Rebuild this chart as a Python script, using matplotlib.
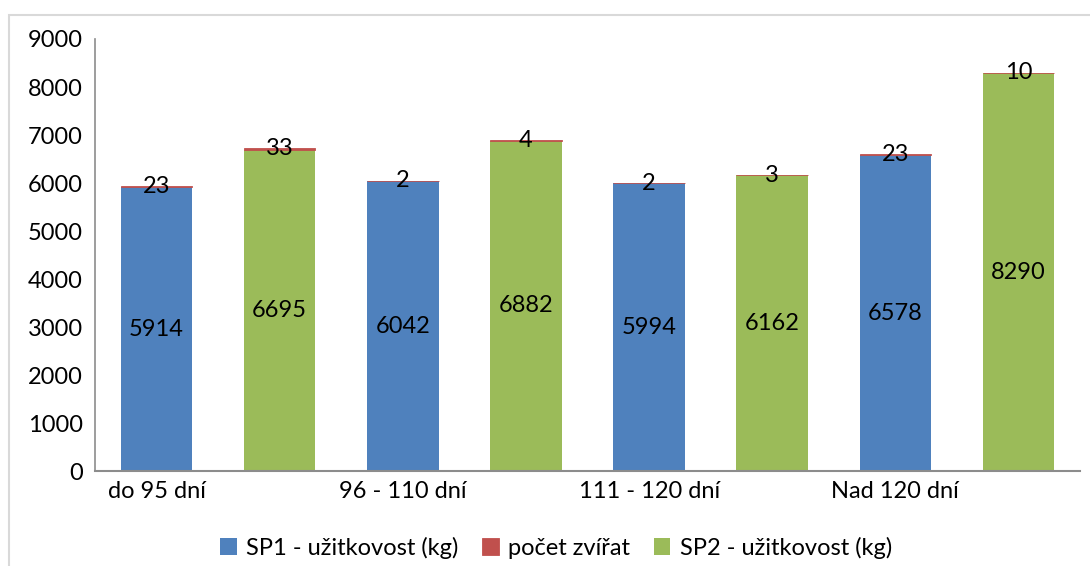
import matplotlib.pyplot as plt
from matplotlib.patches import Rectangle

plt.rcParams['font.family'] = ['Lato', 'DejaVu Sans']

# categories (every other one is unlabeled, like in the original sheet)
labels = ['do 95 dní', '', '96 - 110 dní', '', '111 - 120 dní', '', 'Nad 120 dní', '']
sp1 = [5914, 0, 6042, 0, 5994, 0, 6578, 0]
sp2 = [0, 6695, 0, 6882, 0, 6162, 0, 8290]
pocet = [23, 33, 2, 4, 2, 3, 23, 10]

blue = '#4F81BD'
red = '#C0504D'
green = '#9BBB59'

fig = plt.figure(figsize=(10.9, 5.66), dpi=100)
ax = fig.add_axes([0.0872, 0.1678, 0.9036, 0.7633])

x = list(range(len(labels)))
w = 0.58
base = [a + b for a, b in zip(sp1, sp2)]

b1 = ax.bar(x, sp1, w, color=blue, label='SP1 - užitkovost (kg)')
b3 = ax.bar(x, sp2, w, color=green, label='SP2 - užitkovost (kg)')
b2 = ax.bar(x, pocet, w, bottom=base, color=red, edgecolor=red, linewidth=0.6,
            label='počet zvířat')

# labels
fs = 17
for i in x:
    ax.text(i, base[i] / 2, str(base[i]), ha='center', va='center', fontsize=fs)
    ax.text(i, base[i] + pocet[i] / 2, str(pocet[i]), ha='center', va='center', fontsize=fs)

ax.set_xlim(-0.5, 7.5)
ax.set_ylim(0, 9000)
ax.set_yticks(range(0, 9001, 1000))
ax.set_xticks(x)
ax.set_xticklabels(labels)
ax.tick_params(axis='both', length=0, labelsize=fs)
ax.tick_params(axis='y', pad=9)
ax.tick_params(axis='x', pad=7)
for s in ['top', 'right']:
    ax.spines[s].set_visible(False)
ax.spines['left'].set_color('#8c8c8c')
ax.spines['bottom'].set_color('#8c8c8c')
ax.spines['left'].set_linewidth(1.2)
ax.spines['bottom'].set_linewidth(1.5)

fig.legend(handles=[b1, b2, b3], loc='center', bbox_to_anchor=(0.51, 0.032),
           ncol=3, frameon=False, fontsize=fs, handlelength=0.7, handleheight=0.7,
           handletextpad=0.4, columnspacing=1.0)

# outer chart frame (cropped on right and bottom)
fig.patches.append(Rectangle((9 / 1090, -0.05), 1.1, 1 - 15 / 566 + 0.05,
                             transform=fig.transFigure, fill=False,
                             edgecolor='#d9d9d9', linewidth=1.5))

fig.savefig('out.png', dpi=100)
